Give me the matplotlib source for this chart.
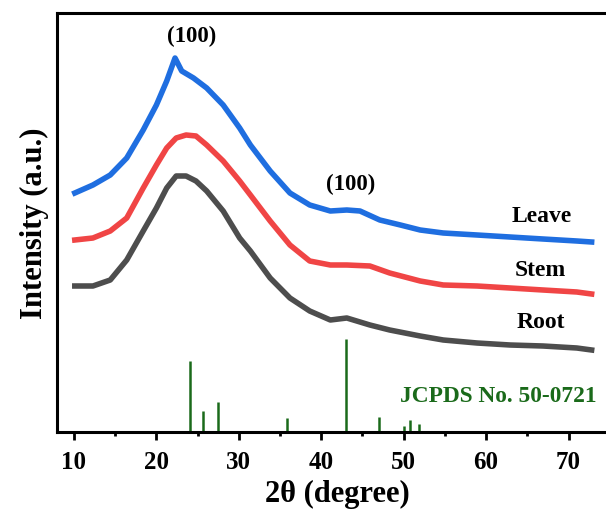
import numpy as np
import matplotlib.pyplot as plt

# 2theta (degree) sampling points and intensities (a.u.)
leave_x = [10.1, 12.3, 14.4, 16.4, 18.4, 20.0, 21.25, 22.26, 23.07, 24.5, 26.1,
           28.1, 30.1, 31.4, 33.8, 36.2, 38.6, 41.1, 43.1, 44.7, 47.1, 49.6,
           52.0, 54.8, 58.9, 62.9, 66.9, 71.0, 72.8]
leave = [239, 247, 257, 274, 302, 327, 351, 374, 361, 354, 344,
         327, 304, 287, 261, 239, 227, 221, 222, 221, 212, 207,
         202, 199, 197, 195, 193, 191, 190]

sr_x = [10.1, 12.3, 14.4, 16.4, 18.4, 20.0, 21.25, 22.4, 23.6, 24.8, 26.1,
        28.1, 30.1, 31.4, 33.8, 36.2, 38.6, 41.1, 43.1, 45.9, 48.3, 52.0,
        54.8, 58.9, 62.9, 66.9, 71.0, 72.8]
stem = [192, 194, 201, 214, 244, 267, 284, 294, 297, 296, 287,
        271, 251, 237, 211, 187, 171, 167, 167, 166, 159, 151,
        147, 146, 144, 142, 140, 138]
root = [146, 146, 152, 172, 201, 224, 244, 256, 256, 251, 241,
        221, 194, 181, 154, 134, 121, 112, 114, 107, 102, 96,
        92, 89, 87, 86, 84, 82]

# reference pattern JCPDS No. 50-0721
ref_pos = [24.1, 25.7, 27.5, 35.85, 43.0, 47.05, 50.0, 50.8, 51.85]
ref_int = [71, 21, 30, 14, 93, 15, 6, 12, 8]

plt.rcParams['font.family'] = ['Liberation Serif', 'DejaVu Serif']
plt.rcParams['font.weight'] = 'bold'

fig = plt.figure(figsize=(6.06, 5.10), dpi=100)
ax = fig.add_axes([57 / 606, 77 / 510, 561 / 606, 419 / 510])

ax.plot(sr_x, root, color='#4d4d4d', lw=4, solid_joinstyle='round')
ax.plot(sr_x, stem, color='#f04545', lw=4, solid_joinstyle='round')
ax.plot(leave_x, leave, color='#1f6ee0', lw=4, solid_joinstyle='round')

green = '#1a6a1a'
ax.vlines(ref_pos, 0, ref_int, color=green, lw=1.8)

ax.text(24.3, 397, '(100)', ha='center', va='center', fontsize=16.5, fontweight='bold')
ax.text(43.6, 249, '(100)', ha='center', va='center', fontsize=16.5, fontweight='bold')
ax.text(66.7, 216, 'Leave', ha='center', va='center', fontsize=17, fontweight='bold')
ax.text(66.6, 163, 'Stem', ha='center', va='center', fontsize=17, fontweight='bold')
ax.text(66.7, 110, 'Root', ha='center', va='center', fontsize=17, fontweight='bold')
ax.text(73.4, 36, 'JCPDS No. 50-0721', ha='right', va='center', fontsize=16.8,
        fontweight='bold', color=green)

ax.set_xlim(7.94, 76)
ax.set_ylim(0, 419)
ax.set_xticks([10, 20, 30, 40, 50, 60, 70])
ax.set_xticks([15, 25, 35, 45, 55, 65, 75], minor=True)
ax.set_yticks([])
ax.tick_params(axis='x', which='major', direction='out', length=6, width=2,
               labelsize=18, pad=7)
ax.tick_params(axis='x', which='minor', direction='out', length=3, width=2)
for lab in ax.get_xticklabels():
    lab.set_fontweight('bold')
for s in ax.spines.values():
    s.set_linewidth(2.2)

ax.set_xlabel('2θ (degree)', fontsize=22, fontweight='bold', labelpad=4)
ax.set_ylabel('Intensity (a.u.)', fontsize=22, fontweight='bold', labelpad=6)

fig.savefig('out.png', dpi=100)
